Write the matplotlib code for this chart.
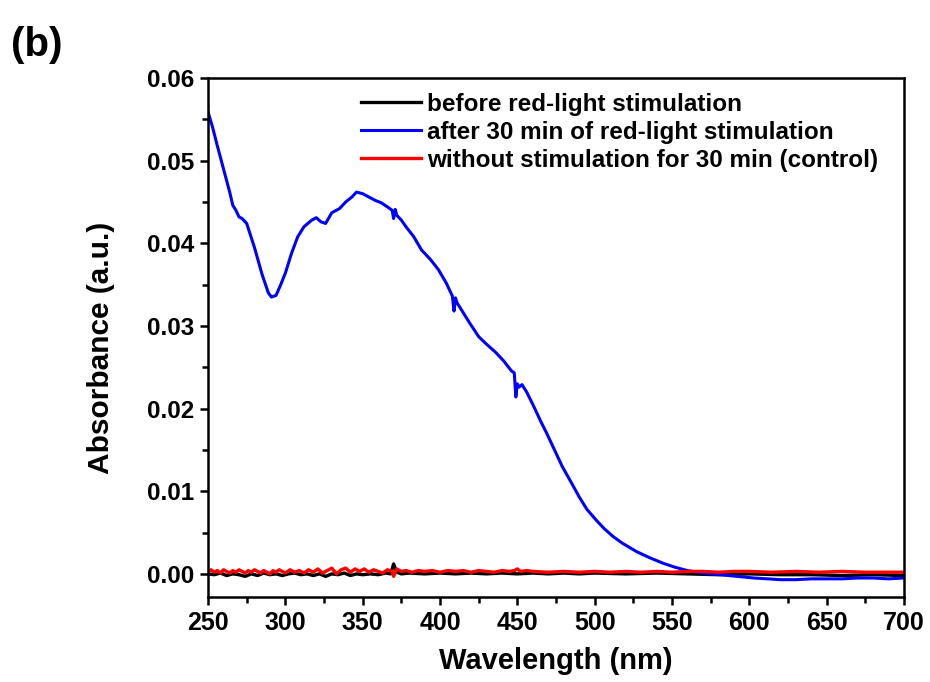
import numpy as np
import matplotlib
matplotlib.use('Agg')
import matplotlib.pyplot as plt
from matplotlib.ticker import MultipleLocator

plt.rcParams['font.family'] = ['Liberation Sans', 'DejaVu Sans']
plt.rcParams['font.weight'] = 'bold'

# blue: after 30 min of red-light stimulation
wl_after = [250, 253, 256, 260, 264, 266, 268, 270, 272, 275, 280, 285, 289, 291, 294, 297, 300,
            304, 308, 312, 317, 320, 323, 326, 330, 335, 339, 343, 346, 350, 354, 358, 362,
            366, 369, 370, 371, 372, 375, 378, 383, 388, 394, 399, 404, 408, 409, 410, 411,
            415, 419, 425, 430, 436, 441, 446, 448, 449, 450, 451, 453, 456, 460, 465, 469,
            474, 479, 485, 490, 495, 501, 506, 512, 518, 527, 535, 544, 552, 560, 570, 581,
            592, 603, 612, 620, 630, 640, 650, 660, 670, 680, 690, 700]
abs_after = [0.0559, 0.0540, 0.0518, 0.0490, 0.0462, 0.0446, 0.0440, 0.0432, 0.0430, 0.0424,
             0.0395, 0.0362, 0.0340, 0.0335, 0.0337, 0.0350, 0.0364, 0.0388, 0.0408, 0.0420,
             0.0428, 0.0431, 0.0426, 0.0424, 0.0437, 0.0442, 0.0450, 0.0456, 0.0462, 0.0460,
             0.0456, 0.0452, 0.0449, 0.0444, 0.0440, 0.0430, 0.0441, 0.0434, 0.0428, 0.0420,
             0.0408, 0.0392, 0.0380, 0.0368, 0.0352, 0.0336, 0.0318, 0.0334, 0.0328, 0.0316,
             0.0304, 0.0287, 0.0278, 0.0268, 0.0258, 0.0246, 0.0243, 0.0214, 0.0230, 0.0226,
             0.0229, 0.0220, 0.0205, 0.0185, 0.0170, 0.0150, 0.0130, 0.0110, 0.0093, 0.0078,
             0.0065, 0.0055, 0.0045, 0.0037, 0.0027, 0.0020, 0.0013, 0.0008, 0.0004, 0.0001,
             -0.0001, -0.0003, -0.0005, -0.0006, -0.0007, -0.0007, -0.0006, -0.0006, -0.0006,
             -0.0005, -0.0005, -0.0006, -0.0005]

# black: before red-light stimulation
wl_before = [250, 254, 258, 262, 266, 270, 274, 278, 282, 286, 290, 294, 298, 302, 306, 310,
             314, 318, 322, 326, 330, 334, 338, 342, 346, 350, 355, 360, 365, 368, 370, 372,
             375, 380, 390, 400, 410, 420, 430, 440, 450, 460, 470, 480, 490, 500, 520, 540,
             560, 580, 600, 620, 640, 660, 680, 700]
abs_before = [0.0000, -0.0001, 0.0001, -0.0002, 0.0000, -0.0001, -0.0003, 0.0000, -0.0002,
              0.0001, -0.0001, 0.0000, -0.0002, 0.0000, 0.0001, -0.0001, 0.0000, -0.0002,
              0.0000, -0.0003, 0.0000, -0.0001, 0.0001, -0.0002, 0.0000, -0.0001, 0.0000,
              -0.0001, 0.0001, 0.0000, 0.0012, 0.0002, 0.0000, 0.0001, 0.0000, 0.0001, 0.0000,
              0.0001, 0.0000, 0.0001, 0.0000, 0.0001, 0.0000, 0.0001, 0.0000, 0.0001, 0.0000,
              0.0001, 0.0000, -0.0001, 0.0000, -0.0001, -0.0001, -0.0002, -0.0001, -0.0002]

# red: without stimulation for 30 min (control)
wl_ctrl = [250, 252, 254, 256, 258, 260, 262, 264, 266, 268, 270, 272, 274, 276, 278, 280, 282,
           284, 286, 288, 290, 292, 294, 296, 298, 300, 303, 306, 309, 312, 315, 318, 321,
           324, 327, 330, 333, 336, 339, 342, 345, 348, 351, 354, 357, 360, 363, 366, 369,
           370, 372, 375, 378, 382, 386, 390, 395, 400, 405, 410, 415, 420, 425, 430, 435,
           440, 445, 448, 450, 452, 456, 460, 470, 480, 490, 500, 510, 520, 530, 540, 550,
           560, 570, 580, 590, 600, 615, 630, 645, 660, 675, 690, 700]
abs_ctrl = [0.0003, 0.0005, 0.0002, 0.0004, 0.0001, 0.0005, 0.0003, 0.0001, 0.0004, 0.0002,
            0.0005, 0.0003, 0.0001, 0.0004, 0.0002, 0.0005, 0.0003, 0.0001, 0.0004, 0.0002,
            0.0000, 0.0004, 0.0002, 0.0005, 0.0003, 0.0001, 0.0005, 0.0002, 0.0004, 0.0001,
            0.0005, 0.0002, 0.0006, 0.0001, 0.0004, 0.0007, 0.0000, 0.0005, 0.0007, 0.0002,
            0.0006, 0.0003, 0.0006, 0.0002, 0.0005, 0.0003, 0.0001, 0.0005, 0.0003, -0.0003,
            0.0006, 0.0003, 0.0004, 0.0002, 0.0004, 0.0003, 0.0004, 0.0002, 0.0004, 0.0003,
            0.0004, 0.0002, 0.0004, 0.0003, 0.0002, 0.0004, 0.0003, 0.0004, 0.0006, 0.0003,
            0.0004, 0.0003, 0.0002, 0.0003, 0.0002, 0.0003, 0.0002, 0.0003, 0.0002, 0.0003,
            0.0002, 0.0003, 0.0003, 0.0002, 0.0003, 0.0003, 0.0002, 0.0003, 0.0002, 0.0003,
            0.0002, 0.0002, 0.0002]

fig = plt.figure(figsize=(9.3, 6.82), dpi=100)
ax = fig.add_axes([0.2237, 0.1246, 0.7484, 0.761])

ax.plot(wl_before, abs_before, color='black', lw=2.4, label='before red-light stimulation')
ax.plot(wl_after, abs_after, color='#0000ff', lw=2.2,
        label='after 30 min of red-light stimulation')
ax.plot(wl_ctrl, abs_ctrl, color='#ff0000', lw=2.4,
        label='without stimulation for 30 min (control)')

ax.set_xlim(250, 700)
ax.set_ylim(-0.0028, 0.06)
ax.xaxis.set_major_locator(MultipleLocator(50))
ax.xaxis.set_minor_locator(MultipleLocator(25))
ax.yaxis.set_major_locator(MultipleLocator(0.01))
ax.yaxis.set_minor_locator(MultipleLocator(0.005))
ax.yaxis.set_major_formatter(matplotlib.ticker.FormatStrFormatter('%.2f'))

for s in ax.spines.values():
    s.set_linewidth(1.8)
ax.tick_params(which='major', direction='out', length=6, width=1.8, pad=4)
ax.tick_params(axis='y', which='major', labelsize=17.5)
ax.tick_params(axis='x', which='major', labelsize=18)
ax.tick_params(which='minor', direction='out', length=4, width=1.8)

ax.set_xlabel('Wavelength (nm)', fontsize=21, fontweight='bold', labelpad=9)
ax.set_ylabel('Absorbance (a.u.)', fontsize=21.5, fontweight='bold')
ax.yaxis.set_label_coords(-0.133, 0.48)

leg = ax.legend(loc='upper left', bbox_to_anchor=(0.206, 0.99), frameon=False,
                fontsize=17.5, handlelength=2.45, handletextpad=0.25, labelspacing=0.2,
                borderaxespad=0)

fig.text(0.012, 0.918, '(b)', fontsize=29, fontweight='bold')

fig.savefig('out.png', dpi=100)
